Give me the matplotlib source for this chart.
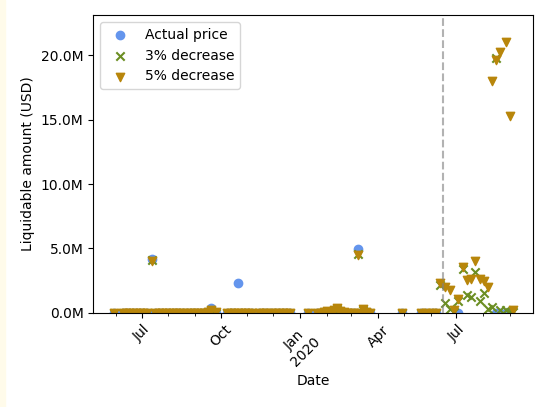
import matplotlib
matplotlib.use("Agg")
import matplotlib.pyplot as plt
import matplotlib.dates as mdates
from matplotlib.patches import Rectangle
from matplotlib.ticker import FuncFormatter
import numpy as np
import pandas as pd

# dates of the observations
dates = [
    "2019-05-30", "2019-06-09", "2019-06-13", "2019-06-17", "2019-06-21",
    "2019-06-25", "2019-06-29", "2019-07-03", "2019-07-07", "2019-07-13",
    "2019-07-17", "2019-07-21", "2019-07-25", "2019-07-29", "2019-08-02",
    "2019-08-06", "2019-08-10", "2019-08-14", "2019-08-18", "2019-08-23",
    "2019-08-27", "2019-08-31", "2019-09-04", "2019-09-08", "2019-09-12",
    "2019-09-16", "2019-09-20", "2019-09-25", "2019-10-08", "2019-10-13",
    "2019-10-17", "2019-10-21", "2019-10-25", "2019-10-29", "2019-11-02",
    "2019-11-06", "2019-11-15", "2019-11-19", "2019-11-23", "2019-11-28",
    "2019-12-03", "2019-12-08", "2019-12-12", "2019-12-16", "2019-12-20",
    "2020-01-10", "2020-01-21", "2020-01-25", "2020-01-29", "2020-02-02",
    "2020-02-06", "2020-02-10", "2020-02-13", "2020-02-17", "2020-02-21",
    "2020-02-25", "2020-03-01", "2020-03-04", "2020-03-08", "2020-03-11",
    "2020-03-14", "2020-03-18", "2020-03-22", "2020-04-29", "2020-05-21",
    "2020-05-27", "2020-06-02", "2020-06-07",
    "2020-06-12", "2020-06-18", "2020-06-23", "2020-06-28", "2020-07-03",
    "2020-07-08", "2020-07-13", "2020-07-18", "2020-07-23", "2020-07-28",
    "2020-08-02", "2020-08-07", "2020-08-11", "2020-08-16", "2020-08-21",
    "2020-08-27", "2020-09-01", "2020-09-05",
]

nan = np.nan

# liquidable amounts in million USD (nan = no value)
actual = [
    0, 0, 0, 0, 0, 0, 0, 0, 0, 4.2,
    0, 0, 0, 0, 0, 0, 0, 0, 0, 0,
    0, 0, 0, 0, 0, 0, 0.4, 0, 0, 0,
    0, 2.3, 0, 0, 0, 0, 0, 0, 0, 0,
    0, 0, 0, 0, 0, 0, 0, 0, 0, 0,
    0, 0, 0, 0, 0, 0, 0, 0, 4.95, 0,
    0, 0, 0, 0, 0, 0, 0, 0,
    nan, nan, nan, nan, 0, nan, nan, nan, nan, nan,
    nan, nan, nan, 0, 0, 0, 0, nan,
]
decrease_3 = [
    0, 0, 0, 0, 0, 0, 0, 0, 0, 4.1,
    0, 0, 0, 0, 0, 0, 0, 0, 0, 0,
    0, 0, 0, 0, 0, 0.1, 0.25, 0, 0, 0,
    0, 0, 0, 0, 0, 0, 0, 0, 0, 0,
    0, 0, 0, 0, 0, 0, 0, 0, 0.1, 0.1,
    0.1, 0.15, 0.3, 0.1, 0, 0, 0, 0, 4.55, 0,
    0.25, 0.1, 0, 0, 0, 0, 0, 0,
    2.2, 0.75, 0.3, 0.1, 0.95, 3.4, 1.4, 1.25, 3.2, 0.9,
    1.55, 0.3, 0.45, 19.8, 0.2, 0.2, 0.1, 0.1,
]
decrease_5 = [
    0, 0, 0, 0, 0, 0, 0, 0, 0, 4.0,
    0, 0, 0, 0, 0, 0, 0, 0, 0, 0,
    0, 0, 0, 0, 0, 0.1, 0.2, 0.05, 0, 0,
    0, 0, 0, 0, 0, 0, 0, 0, 0, 0,
    0, 0, 0, 0, 0, 0, 0, 0, 0.1, 0.15,
    0.1, 0.2, 0.4, 0.15, 0.05, 0, 0, 0, 4.5, 0,
    0.3, 0.1, 0, 0, 0, 0, 0, 0,
    2.35, 2.05, 1.78, 0.2, 1.05, 3.6, 2.55, 2.6, 4.0, 2.6,
    2.5, 2.05, 18.0, 19.6, 20.2, 21.0, 15.3, 0.2,
]

event_date = "2020-06-15"

x = pd.to_datetime(dates)
scale = 1e6

fig = plt.figure(figsize=(5.49, 4.07), dpi=100)
fig.patches.append(Rectangle((0, 0), 5 / 549, 1, transform=fig.transFigure,
                             color="#fffbea", zorder=-10))
ax = fig.add_axes([0.170, 0.231, 0.801, 0.732])

ax.scatter(x, np.array(actual) * scale, color="cornflowerblue", label="Actual price")
ax.scatter(x, np.array(decrease_3) * scale, color="olivedrab", marker="x", label="3% decrease")
ax.scatter(x, np.array(decrease_5) * scale, color="darkgoldenrod", marker="v", label="5% decrease")
ax.axvline(pd.Timestamp(event_date), color="gray", linestyle="--", alpha=0.6)

ax.set_xlim(pd.Timestamp("2019-05-06"), pd.Timestamp("2020-09-28"))
ax.set_ylim(0, 23.1e6)

ax.xaxis.set_major_locator(mdates.MonthLocator(bymonth=[1, 4, 7, 10]))
ax.xaxis.set_minor_locator(mdates.MonthLocator())


def date_label(v, pos):
    d = mdates.num2date(v)
    if d.month == 1:
        return d.strftime("%b\n%Y")
    return d.strftime("%b")


ax.xaxis.set_major_formatter(FuncFormatter(date_label))
ax.yaxis.set_major_formatter(FuncFormatter(lambda v, pos: "{:.1f}M".format(v / 1e6)))
plt.setp(ax.get_xticklabels(), rotation=45)

ax.set_xlabel("Date")
ax.set_ylabel("Liquidable amount (USD)")
ax.legend(loc="upper left")

fig.savefig("out.png", dpi=100)
